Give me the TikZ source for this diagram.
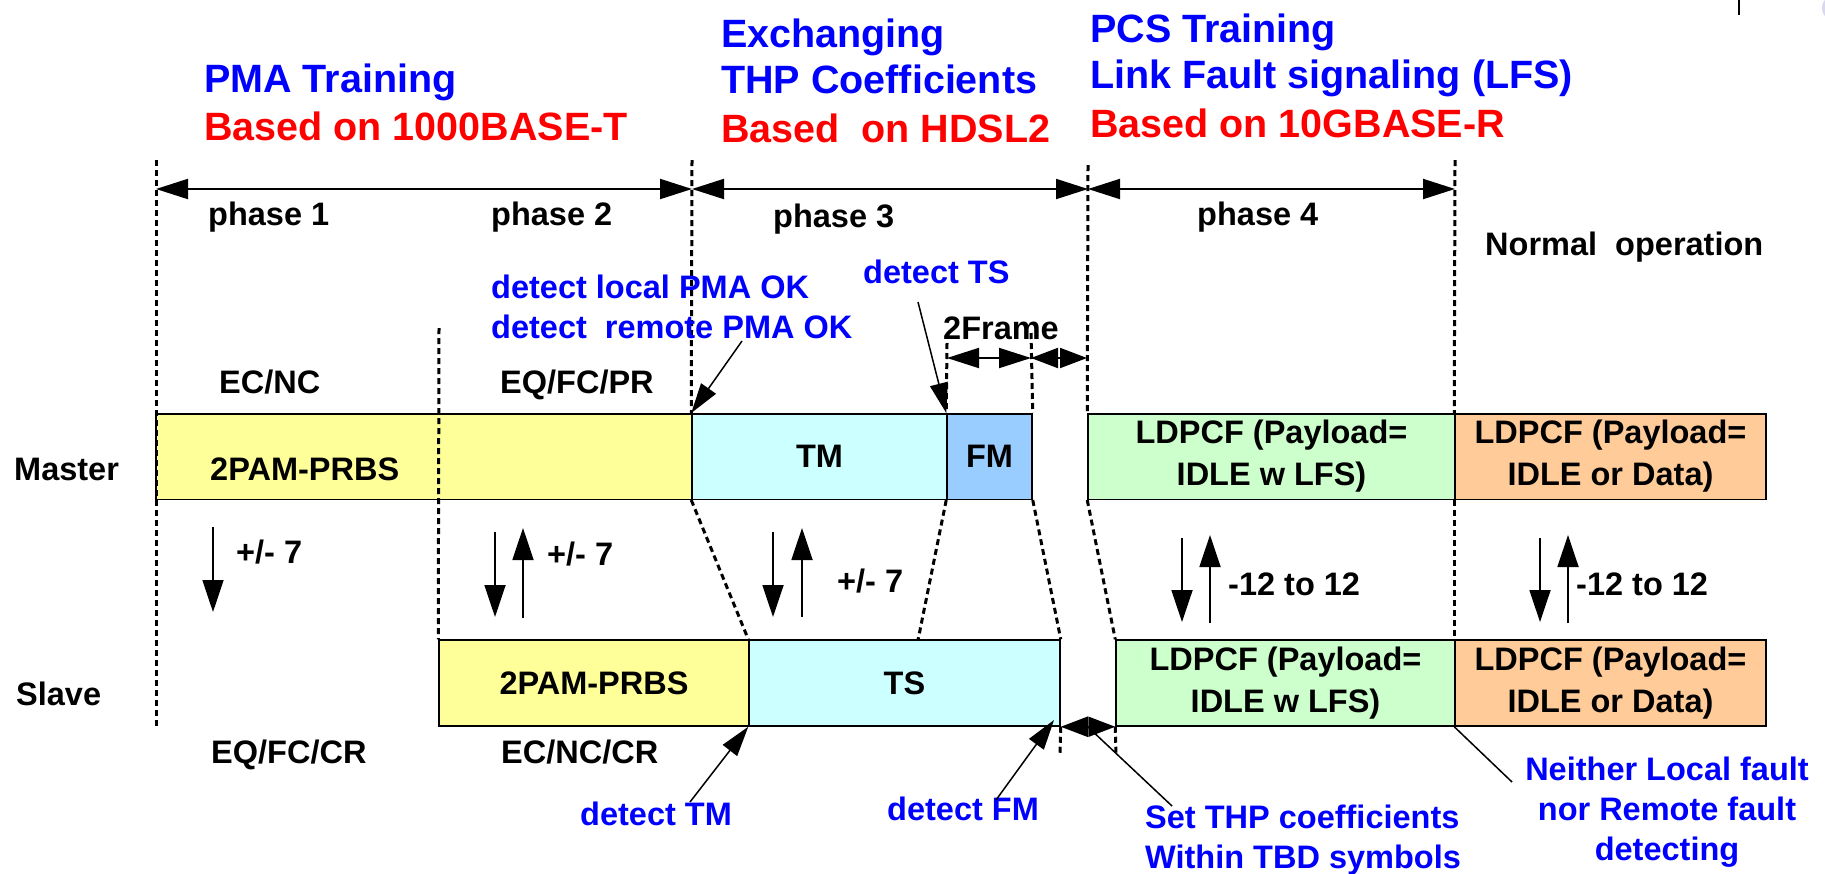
\documentclass[tikz,border=0pt]{standalone}
\usepackage{fontspec}
\setmainfont{Liberation Sans}
\usetikzlibrary{arrows.meta}
\definecolor{textblue}{HTML}{0000FF}
\definecolor{textred}{HTML}{FF0000}
\definecolor{yelbox}{HTML}{FFFF99}
\definecolor{cyanbox}{HTML}{CCFFFF}
\definecolor{fmbox}{HTML}{99CCFF}
\definecolor{greenbox}{HTML}{CCFFCC}
\definecolor{orangebox}{HTML}{FFCC99}
\definecolor{lavender}{HTML}{D8D8EE}
\tikzset{
  lbl/.style={inner sep=0pt, font=\fontsize{32.5}{41}\selectfont\bfseries, anchor=base west},
  lblc/.style={inner sep=0pt, font=\fontsize{32.5}{41}\selectfont\bfseries, anchor=base},
  ttl/.style={inner sep=0pt, font=\fontsize{39.5}{47.5}\selectfont\bfseries, anchor=base west},
  bl/.style={text=textblue},
  rd/.style={text=textred},
  box/.style={draw=black, line width=1.5pt, inner sep=0pt, minimum height=85.5pt,
    font=\fontsize{32.5}{42}\selectfont\bfseries, align=center},
  guide/.style={line width=3pt, dash pattern=on 6pt off 4pt},
  dimarrow/.style={line width=2pt, <->, >={Triangle[length=32pt,width=20pt]}},
  shortdim/.style={line width=2pt, <->, >={Triangle[length=27pt,width=20pt]}},
  varrow/.style={line width=1.8pt, ->, >={Triangle[length=32pt,width=21pt]}},
  pointer/.style={line width=1.5pt, ->, >={Triangle[length=30pt,width=18pt]}},
  plainline/.style={line width=1.5pt}
}
\begin{document}
\begin{tikzpicture}[x=1pt,y=-1pt]
\useasboundingbox (0,0) rectangle (1825,873);
\clip (0,0) rectangle (1825,873);
\fill[white] (0,0) rectangle (1825,873);

% corner artifacts
\draw[line width=1.5pt] (1739,0) -- (1739,15);
\fill[lavender] (1836,8) circle (14);

% titles
\node[ttl,bl] (t1a) at (204,92) {PMA Training};
\node[ttl,rd] (t1b) at (204,140) {Based on 1000BASE-T};
\node[ttl,bl] (t2a) at (721,47) {Exchanging};
\node[ttl,bl] (t2b) at (721,93) {THP Coefficients};
\node[ttl,rd] (t2c) at (721,142) {Based~~on HDSL2};
\node[ttl,bl] (t3a) at (1090,42) {PCS Training};
\node[ttl,bl] (t3b) at (1090,88) {Link Fault signaling (LFS)};
\node[ttl,rd] (t3c) at (1090,137) {Based on 10GBASE-R};

% phase dimension arrows
\coordinate (p0) at (156,189);
\coordinate (p1) at (692,189);
\coordinate (p2) at (1088,189);
\coordinate (p3) at (1455,189);
\draw[dimarrow] (p0) -- (p1);
\draw[dimarrow] (p1) -- (p2);
\draw[dimarrow] (p2) -- (p3);

\node[lbl] (ph1) at (208,225) {phase 1};
\node[lbl] (ph2) at (491,225) {phase 2};
\node[lbl] (ph3) at (773,227) {phase 3};
\node[lbl] (ph4) at (1197,225) {phase 4};
\node[lbl] (norm) at (1485,255) {Normal~~operation};

% master boxes
\node[box, fill=yelbox, minimum width=536pt] (m1) at (424,456.5) {};
\node[box, fill=cyanbox, minimum width=255pt] (m2) at (819.5,456.5) {TM};
\node[box, fill=fmbox, minimum width=85pt] (m3) at (989.5,456.5) {FM};
\node[box, fill=greenbox, minimum width=367pt] (m4) at (1271.5,456.5) {LDPCF (Payload=\\IDLE w LFS)};
\node[box, fill=orangebox, minimum width=311pt] (m5) at (1610.5,456.5) {LDPCF (Payload=\\IDLE or Data)};
\node[lbl] (m1t) at (210,480) {2PAM-PRBS};

% slave boxes
\node[box, fill=yelbox, minimum width=310pt, minimum height=86pt] (s1) at (594,683) {2PAM-PRBS};
\node[box, fill=cyanbox, minimum width=311pt, minimum height=86pt] (s2) at (904.5,683) {TS};
\node[box, fill=greenbox, minimum width=339pt, minimum height=86pt] (s3) at (1285.5,683) {LDPCF (Payload=\\IDLE w LFS)};
\node[box, fill=orangebox, minimum width=311pt, minimum height=86pt] (s4) at (1610.5,683) {LDPCF (Payload=\\IDLE or Data)};

% row labels
\node[lbl] (master) at (14,480) {Master};
\node[lbl] (slave) at (16,705) {Slave};

% guide coordinates
\coordinate (g1a) at (156,160);
\coordinate (g1b) at (156,727);
\coordinate (g2a) at (439,328);
\coordinate (g3a) at (692,160);
\coordinate (g4a) at (1088,165);
\coordinate (g4b) at (1116,755);
\coordinate (g5a) at (947,343);
\coordinate (g5b) at (918,640);
\coordinate (g6a) at (1031,333);
\coordinate (g6b) at (1060,755);
\coordinate (g7a) at (1455,160);

% dashed guides
\draw[guide] (g1a) -- (g1b);
\draw[guide] (g2a) -- (s1.north west);
\draw[guide] (g3a) -- (m2.north west);
\draw[guide] (m2.south west) -- (s2.north west);
\draw[guide] (g4a) -- (m4.north west);
\draw[guide] (m4.south west) -- (s3.north west);
\draw[guide] (s3.south west) -- (g4b);
\draw[guide] (g5a) -- (m3.north west);
\draw[guide] (m3.south west) -- (g5b);
\draw[guide] (g6a) -- (m3.north east);
\draw[guide] (m3.south east) -- (s2.north east);
\draw[guide] (s2.south east) -- (g6b);
\draw[guide] (g7a) -- (m5.north west);
\draw[guide] (m5.south west) -- (s4.north west);

% 2Frame
\node[lbl] (twoframe) at (943,339) {2Frame};
\coordinate (f0) at (947,358);
\coordinate (f1) at (1031,358);
\coordinate (f2) at (1087,358);
\draw[dimarrow] (f0) -- (f1);
\draw[shortdim] (f1) -- (f2);
\draw[shortdim] (s2.south east) -- (s3.south west);

% upper labels
\node[lbl] (ecnc) at (219,393) {EC/NC};
\node[lbl] (eqfcpr) at (500,393) {EQ/FC/PR};
\node[lbl,bl] (dlocal) at (491,298) {detect local PMA OK};
\node[lbl,bl] (dremote) at (491,338) {detect~~remote PMA OK};
\node[lbl,bl] (dts) at (863,283) {detect TS};
\coordinate (dremoteS) at (742,341);
\coordinate (dtsS) at (918,302);
\draw[pointer] (dremoteS) -- (m2.north west);
\draw[pointer] (dtsS) -- (m3.north west);

% vertical exchange arrows
\draw[varrow] (213,527) coordinate (a1s) -- (213,612) coordinate (a1e);
\node[lbl] (pm1) at (236,563) {+/- 7};
\draw[varrow] (495,532) coordinate (a2s) -- (495,617) coordinate (a2e);
\draw[varrow] (523,618) coordinate (a3s) -- (523,528) coordinate (a3e);
\node[lbl] (pm2) at (547,565) {+/- 7};
\draw[varrow] (773,532) coordinate (a4s) -- (773,617) coordinate (a4e);
\draw[varrow] (802,617) coordinate (a5s) -- (802,528) coordinate (a5e);
\node[lbl] (pm3) at (837,592) {+/- 7};
\draw[varrow] (1182,538) coordinate (a6s) -- (1182,622) coordinate (a6e);
\draw[varrow] (1210,623) coordinate (a7s) -- (1210,535) coordinate (a7e);
\node[lbl] (r1) at (1228,595) {-12 to 12};
\draw[varrow] (1540,538) coordinate (a8s) -- (1540,622) coordinate (a8e);
\draw[varrow] (1568,623) coordinate (a9s) -- (1568,535) coordinate (a9e);
\node[lbl] (r2) at (1576,595) {-12 to 12};

% lower labels
\node[lbl] (eqfccr) at (211,763) {EQ/FC/CR};
\node[lbl] (ecnccr) at (501,763) {EC/NC/CR};
\node[lbl,bl] (dtm) at (580,825) {detect TM};
\node[lbl,bl] (dfm) at (887,820) {detect FM};
\node[lbl,bl] (thp1) at (1145,828) {Set THP coefficients};
\node[lbl,bl] (thp2) at (1145,868) {Within TBD symbols};
\node[lblc,bl] (nf1) at (1667,780) {Neither Local fault};
\node[lblc,bl] (nf2) at (1667,820) {nor Remote fault};
\node[lblc,bl] (nf3) at (1667,860) {detecting};

\coordinate (dtmS) at (690,802);
\coordinate (dfmS) at (996,800);
\coordinate (dfmE) at (1054,720);
\coordinate (thpS) at (1172,806);
\coordinate (thpE) at (1088,727);
\coordinate (nfE) at (1512,782);
\draw[pointer] (dtmS) -- (s2.south west);
\draw[pointer] (dfmS) -- (dfmE);
\draw[plainline] (thpS) -- (thpE);
\draw[plainline] (s4.south west) -- (nfE);
\end{tikzpicture}
\end{document}
